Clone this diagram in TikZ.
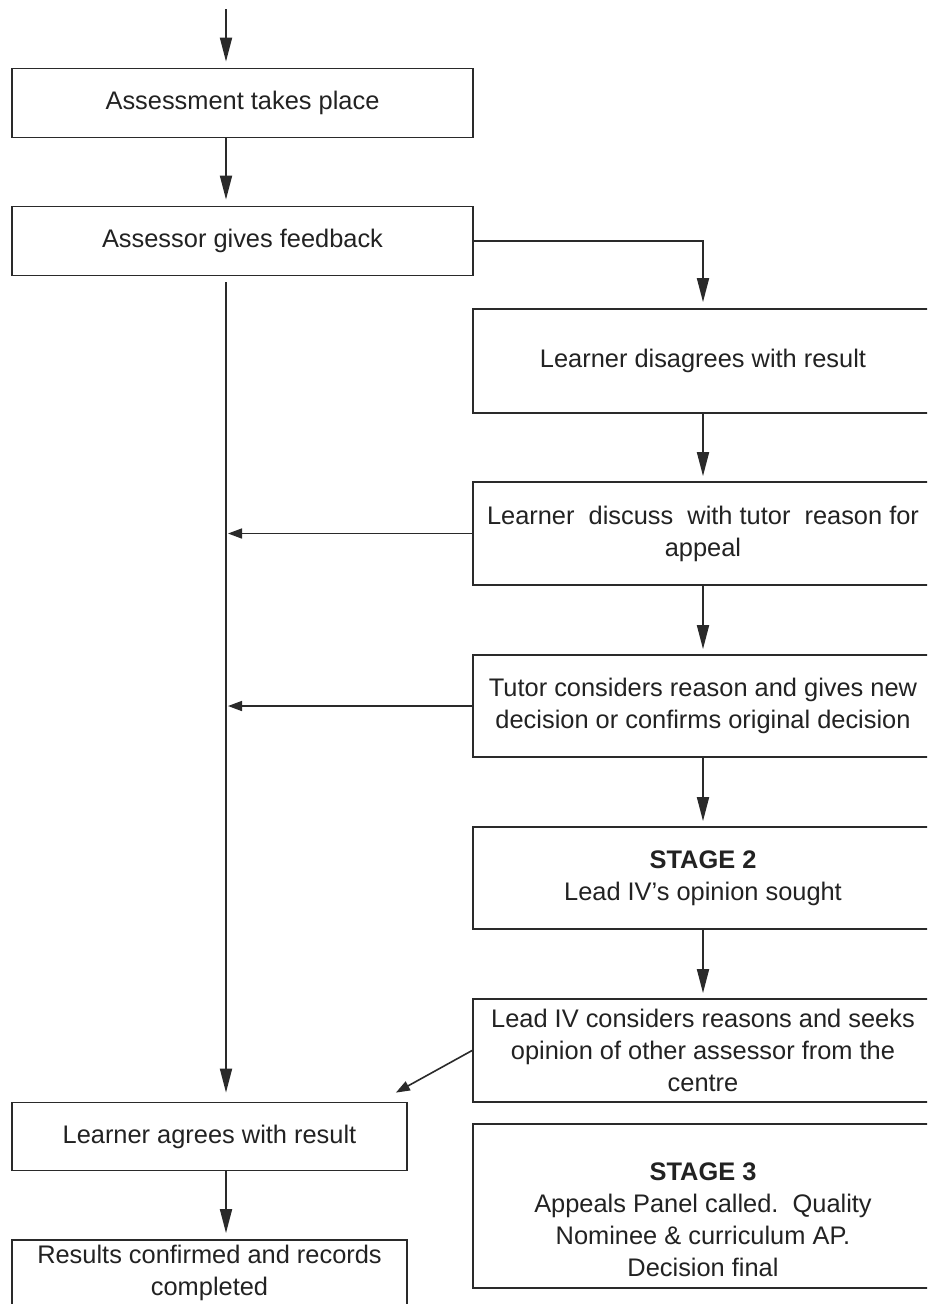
\documentclass[tikz,border=0pt]{standalone}
\usepackage{fontspec}
\setmainfont{Liberation Sans}
\usetikzlibrary{arrows.meta}
\definecolor{ln}{HTML}{2A2A2A}
\definecolor{tx}{HTML}{222222}
\begin{document}
\begin{tikzpicture}[x=1pt,y=-1pt,
  box/.style={draw=ln, line width=1.8pt, fill=white, rectangle, inner sep=0pt,
    align=center, font=\fontsize{25.4}{32}\selectfont, text=tx},
  txt/.style={inner sep=0pt, align=center, font=\fontsize{25.4}{32}\selectfont, text=tx},
  arr/.style={-{Triangle[length=24pt,width=12pt]}, line width=1.8pt, draw=ln},
  sarr/.style={-{Triangle[length=14pt,width=10pt]}, line width=1.6pt, draw=ln}]
\useasboundingbox (0,0) rectangle (927,1304);
\clip (0,0) rectangle (927,1304);
\fill[white] (0,0) rectangle (927,1304);

% left column
\node[box, minimum width=461pt, minimum height=69pt] (b1) at (242.5,103) {Assessment takes place};
\node[box, minimum width=461pt, minimum height=69pt] (b2) at (242.5,241) {Assessor gives feedback};
\node[box, minimum width=395pt, minimum height=68pt] (b9) at (209.5,1136.5) {Learner agrees with result};
\node[box, minimum width=395pt, minimum height=66pt] (b10) at (209.5,1273) {Results confirmed and records\\completed};

% right column
\node[box, minimum width=460pt, minimum height=104pt] (b3) at (703,361) {Learner disagrees with result};
\node[box, minimum width=460pt, minimum height=103pt] (b4) at (703,533.5) {Learner\ \ discuss\ \ with tutor\ \ reason for\\appeal};
\node[box, minimum width=460pt, minimum height=102pt] (b5) at (703,706) {Tutor considers reason and gives new\\decision or confirms original decision};
\node[box, minimum width=460pt, minimum height=102pt] (b6) at (703,878) {\textbf{STAGE 2}\\Lead IV’s opinion sought};
\node[box, minimum width=460pt, minimum height=103pt] (b7) at (703,1050.5) {Lead IV considers reasons and seeks\\opinion of other assessor from the\\centre};
\node[box, minimum width=460pt, minimum height=164pt] (b8) at (703,1206) {};
\node[txt] (b8t) at (703,1220) {\textbf{STAGE 3}\\Appeals Panel called.\ \ Quality\\Nominee \& curriculum AP.\\Decision final};

% connectors
\coordinate (colx) at (226,0);
\coordinate (top) at (226,9);
\draw[arr, shorten >=6pt] (top) -- (colx |- b1.north);
\draw[arr, shorten >=6pt] (colx |- b1.south) -- (colx |- b2.north);
\draw[arr, shorten >=6pt] (b2.east) -| (b3.north);
\draw[arr, shorten <=6pt, shorten >=9pt] (colx |- b2.south) -- (colx |- b9.north);
\draw[arr, shorten >=5pt] (b3.south) -- (b4.north);
\draw[sarr, shorten >=2pt] (b4.west) -- (colx |- b4.west);
\draw[arr, shorten >=5pt] (b4.south) -- (b5.north);
\draw[sarr, shorten >=2pt] (b5.west) -- (colx |- b5.west);
\draw[arr, shorten >=5pt] (b5.south) -- (b6.north);
\draw[arr, shorten >=5pt] (b6.south) -- (b7.north);
\draw[sarr] (b7.west) -- ([shift={(-12,-9)}]b9.north east);
\draw[arr, shorten >=6pt] (colx |- b9.south) -- (colx |- b10.north);
\end{tikzpicture}
\end{document}
